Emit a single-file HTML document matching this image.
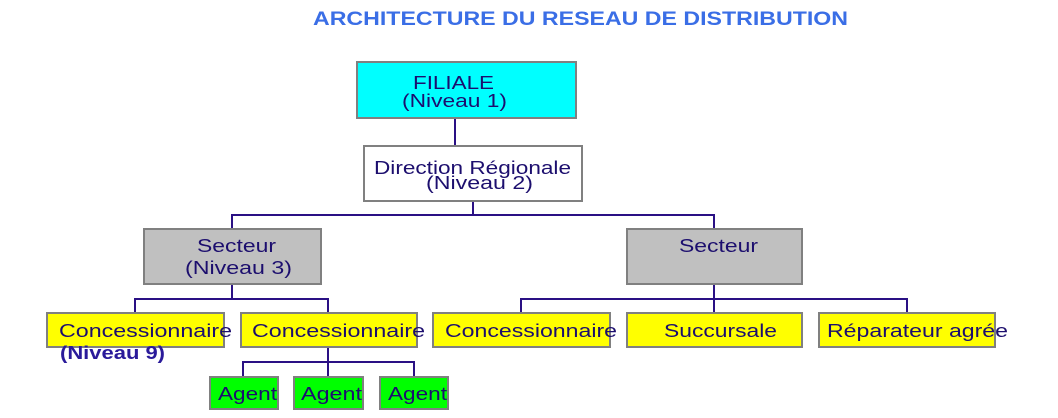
<!DOCTYPE html>
<html>
<head>
<meta charset="utf-8">
<style>
  html, body { margin: 0; padding: 0; background: #ffffff; }
  body { width: 1058px; height: 418px; overflow: hidden; }
  svg { display: block; }
  text { font-family: "Liberation Sans", Arial, sans-serif; }
</style>
</head>
<body>
<svg width="1058" height="418" viewBox="0 0 1058 418" xmlns="http://www.w3.org/2000/svg">
  <!-- Title -->
  <text x="313" y="25" font-size="19" font-weight="bold" fill="#3a6ee6" textLength="535" lengthAdjust="spacingAndGlyphs">ARCHITECTURE DU RESEAU DE DISTRIBUTION</text>

  <!-- Connectors -->
  <g stroke="#2a1084" stroke-width="2" fill="none">
    <line x1="455" y1="118" x2="455" y2="146"/>
    <polyline points="473,201 473,215"/>
    <polyline points="232,229 232,215 714,215 714,229"/>
    <polyline points="232,284 232,299"/>
    <polyline points="135,313 135,299 328,299 328,313"/>
    <polyline points="714,284 714,313"/>
    <polyline points="521,313 521,299 907,299 907,313"/>
    <polyline points="328,347 328,377"/>
    <polyline points="243,377 243,362 414,362 414,377"/>
  </g>

  <!-- Boxes -->
  <g stroke="#808080" stroke-width="2">
    <rect x="357" y="62" width="219" height="56" fill="#00ffff"/>
    <rect x="364" y="146" width="218" height="55" fill="#ffffff"/>
    <rect x="144" y="229" width="177" height="55" fill="#c0c0c0"/>
    <rect x="627" y="229" width="175" height="55" fill="#c0c0c0"/>
    <rect x="47" y="313" width="177" height="34" fill="#ffff00"/>
    <rect x="241" y="313" width="176" height="34" fill="#ffff00"/>
    <rect x="433" y="313" width="177" height="34" fill="#ffff00"/>
    <rect x="627" y="313" width="175" height="34" fill="#ffff00"/>
    <rect x="819" y="313" width="176" height="34" fill="#ffff00"/>
    <rect x="210" y="377" width="68" height="32" fill="#00ff00"/>
    <rect x="294" y="377" width="69" height="32" fill="#00ff00"/>
    <rect x="380" y="377" width="68" height="32" fill="#00ff00"/>
  </g>

  <!-- Labels -->
  <g fill="#1c0e6e" font-size="18">
    <text x="413" y="89" textLength="81" lengthAdjust="spacingAndGlyphs">FILIALE</text>
    <text x="402" y="107" textLength="105" lengthAdjust="spacingAndGlyphs">(Niveau 1)</text>

    <text x="374" y="174" textLength="197" lengthAdjust="spacingAndGlyphs">Direction Régionale</text>
    <text x="426" y="189" textLength="107" lengthAdjust="spacingAndGlyphs">(Niveau 2)</text>

    <text x="197" y="252" textLength="79" lengthAdjust="spacingAndGlyphs">Secteur</text>
    <text x="185" y="274" textLength="107" lengthAdjust="spacingAndGlyphs">(Niveau 3)</text>

    <text x="679" y="252" textLength="79" lengthAdjust="spacingAndGlyphs">Secteur</text>

    <text x="59" y="337" textLength="173" lengthAdjust="spacingAndGlyphs">Concessionnaire</text>
    <text x="252" y="337" textLength="173" lengthAdjust="spacingAndGlyphs">Concessionnaire</text>
    <text x="445" y="337" textLength="172" lengthAdjust="spacingAndGlyphs">Concessionnaire</text>
    <text x="664" y="337" textLength="113" lengthAdjust="spacingAndGlyphs">Succursale</text>
    <text x="827" y="337" textLength="181" lengthAdjust="spacingAndGlyphs">Réparateur agrée</text>

    <text x="218" y="400" textLength="59" lengthAdjust="spacingAndGlyphs">Agent</text>
    <text x="301" y="400" textLength="61" lengthAdjust="spacingAndGlyphs">Agent</text>
    <text x="388" y="400" textLength="59" lengthAdjust="spacingAndGlyphs">Agent</text>
  </g>
  <text x="60" y="359" font-size="18" font-weight="bold" fill="#2a1a9a" textLength="105" lengthAdjust="spacingAndGlyphs">(Niveau 9)</text>
</svg>
</body>
</html>
